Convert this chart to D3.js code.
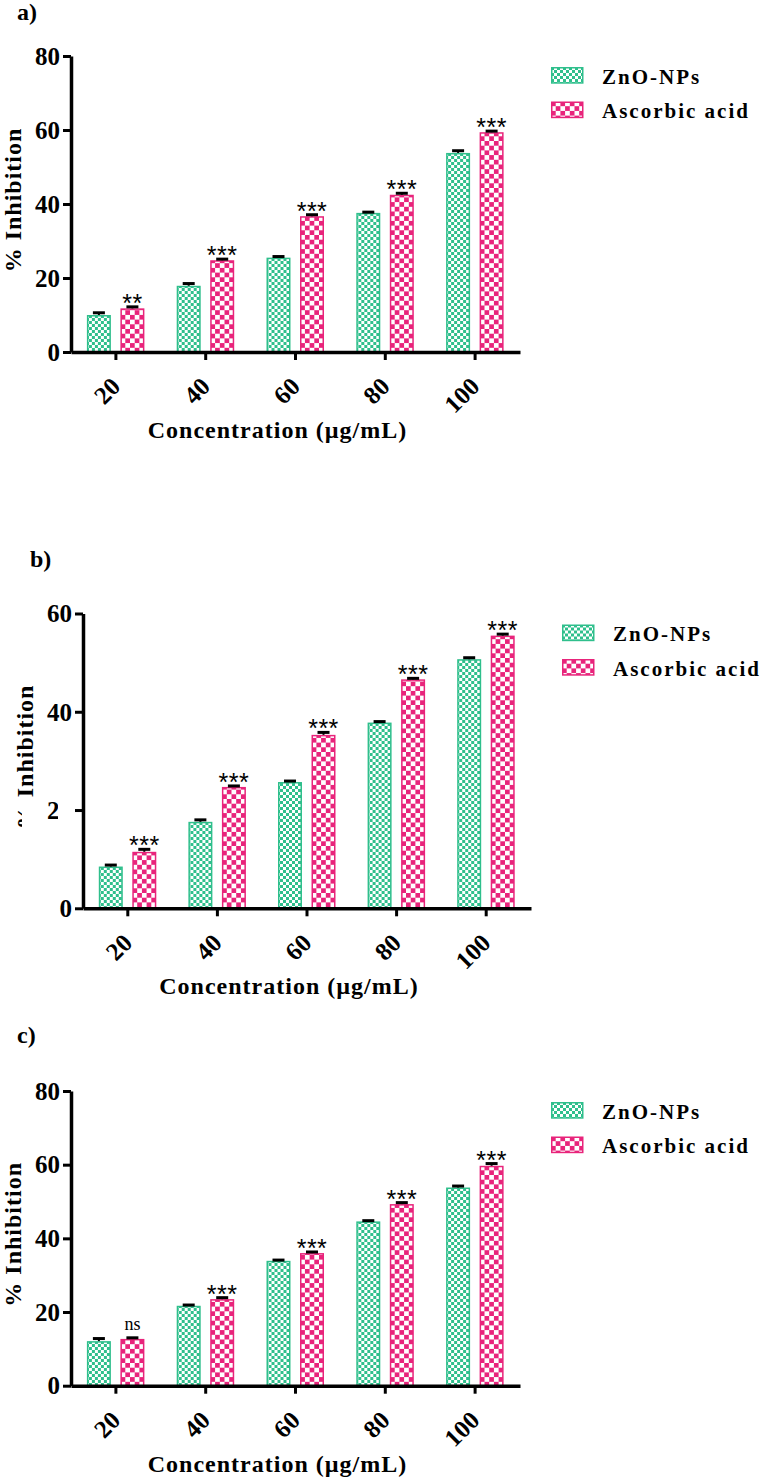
<!DOCTYPE html>
<html>
<head>
<meta charset="utf-8">
<script src="https://cdn.jsdelivr.net/npm/d3@7"></script>
<style>
  html, body { margin: 0; padding: 0; background: #fff; }
  svg { display: block; }
</style>
</head>
<body>
<script>
// ---------------- DATA ----------------
const concentrations = ["20", "40", "60", "80", "100"];
const seriesNames = ["ZnO-NPs", "Ascorbic acid"];

// Panel a
const aZno    = [10.0, 17.9, 25.5, 37.6, 53.8];
const aZnoErr = [0.6, 0.6, 0.3, 0.2, 0.6];
const aAsc    = [11.8, 24.8, 36.7, 42.5, 59.4];
const aAscErr = [0.4, 0.3, 0.4, 0.4, 0.3];
const aSig    = ["**", "***", "***", "***", "***"];
const aTicks  = [0, 20, 40, 60, 80];

// Panel b
const bZno    = [8.5, 17.6, 25.7, 37.8, 50.7];
const bZnoErr = [0.3, 0.4, 0.2, 0.2, 0.3];
const bAsc    = [11.5, 24.7, 35.3, 46.6, 55.5];
const bAscErr = [0.5, 0.2, 0.5, 0.2, 0.3];
const bSig    = ["***", "***", "***", "***", "***"];
const bTicks  = [0, 20, 40, 60];

// Panel c
const cZno    = [12.1, 21.7, 33.9, 44.6, 53.8];
const cZnoErr = [0.7, 0.2, 0.2, 0.2, 0.4];
const cAsc    = [12.7, 23.5, 36.0, 49.3, 59.7];
const cAscErr = [0.3, 0.4, 0.3, 0.4, 0.6];
const cSig    = ["ns", "***", "***", "***", "***"];
const cTicks  = [0, 20, 40, 60, 80];

const xTitle = "Concentration (\u00b5g/mL)";
const yTitle = "% Inhibition";

// ---------------- LAYOUT ----------------
const W = 765, H = 1479;
const GREEN = "#2fbf8c", PINK = "#e8247b";
const SERIF = "'Liberation Serif', 'Times New Roman', serif";
const SANS = "'Liberation Sans', Arial, sans-serif";

const panels = [
  { tag: "a)", tagX: 17, tagY: 20, zno: aZno, znoErr: aZnoErr, asc: aAsc, ascErr: aAscErr, sig: aSig,
    ticks: aTicks, axisX: 71, axisEnd: 520, yTop: 56, yBottom: 352 },
  { tag: "b)", tagX: 30, tagY: 567, zno: bZno, znoErr: bZnoErr, asc: bAsc, ascErr: bAscErr, sig: bSig,
    ticks: bTicks, axisX: 83, axisEnd: 531, yTop: 613.5, yBottom: 908.3, glitch: true },
  { tag: "c)", tagX: 17, tagY: 1043, zno: cZno, znoErr: cZnoErr, asc: cAsc, ascErr: cAscErr, sig: cSig,
    ticks: cTicks, axisX: 71, axisEnd: 520, yTop: 1091, yBottom: 1385.7 }
];

const svg = d3.select("body").append("svg")
  .attr("width", W).attr("height", H)
  .attr("viewBox", `0 0 ${W} ${H}`);

// patterns
const defs = svg.append("defs");
const pg = defs.append("pattern").attr("id", "pGreen")
  .attr("patternUnits", "userSpaceOnUse").attr("width", 6).attr("height", 6);
pg.append("rect").attr("width", 6).attr("height", 6).attr("fill", "#fff");
pg.append("rect").attr("x", 0).attr("y", 0).attr("width", 3).attr("height", 3).attr("fill", GREEN);
pg.append("rect").attr("x", 3).attr("y", 3).attr("width", 3).attr("height", 3).attr("fill", GREEN);

const pp = defs.append("pattern").attr("id", "pPink")
  .attr("patternUnits", "userSpaceOnUse").attr("width", 9.4).attr("height", 9.4);
pp.append("rect").attr("width", 9.4).attr("height", 9.4).attr("fill", "#fff");
pp.append("rect").attr("x", 0).attr("y", 0).attr("width", 4.7).attr("height", 4.7).attr("fill", PINK);
pp.append("rect").attr("x", 4.7).attr("y", 4.7).attr("width", 4.7).attr("height", 4.7).attr("fill", PINK);

const fills = ["url(#pGreen)", "url(#pPink)"];
const strokes = [GREEN, PINK];

panels.forEach(p => {
  const g = svg.append("g");
  const yMax = p.ticks[p.ticks.length - 1];
  const y = d3.scaleLinear().domain([0, yMax]).range([p.yBottom, p.yTop]);
  const x = d3.scaleBand().domain(concentrations).range([p.axisX, p.axisEnd]).paddingInner(0).paddingOuter(0);
  const inner = d3.scaleBand().domain(seriesNames).range([-29, 28.5]).paddingInner(0.284);

  const rows = concentrations.map((c, i) => ({
    c,
    vals: [
      { s: seriesNames[0], v: p.zno[i], e: p.znoErr[i], k: 0 },
      { s: seriesNames[1], v: p.asc[i], e: p.ascErr[i], k: 1, sig: p.sig[i] }
    ]
  }));

  // bars
  const groups = g.selectAll("g.grp").data(rows).enter().append("g")
    .attr("transform", d => `translate(${x(d.c) + x.bandwidth() / 2},0)`);

  groups.selectAll("rect.bar").data(d => d.vals).enter().append("rect")
    .attr("x", d => inner(d.s) + 0.75)
    .attr("width", inner.bandwidth() - 1.5)
    .attr("y", d => y(d.v) + 0.75)
    .attr("height", d => y(0) - y(d.v) - 0.75)
    .attr("fill", d => fills[d.k])
    .attr("stroke", d => strokes[d.k])
    .attr("stroke-width", 1.5);

  // error bars (upper half visible)
  groups.selectAll("line.err").data(d => d.vals).enter().append("line")
    .attr("x1", d => inner(d.s) + inner.bandwidth() / 2)
    .attr("x2", d => inner(d.s) + inner.bandwidth() / 2)
    .attr("y1", d => y(d.v))
    .attr("y2", d => y(d.v + d.e))
    .attr("stroke", "#000").attr("stroke-width", 2);
  groups.selectAll("line.cap").data(d => d.vals).enter().append("line")
    .attr("x1", d => inner(d.s) + inner.bandwidth() / 2 - 6)
    .attr("x2", d => inner(d.s) + inner.bandwidth() / 2 + 6)
    .attr("y1", d => y(d.v + d.e))
    .attr("y2", d => y(d.v + d.e))
    .attr("stroke", "#000").attr("stroke-width", 3);

  // significance labels
  groups.selectAll("text.sig").data(d => d.vals.filter(v => v.sig)).enter().append("text")
    .attr("x", d => inner(d.s) + inner.bandwidth() / 2)
    .attr("y", d => d.sig === "ns" ? y(d.v + d.e) - 8 : y(d.v + d.e) + 5)
    .attr("text-anchor", "middle")
    .style("font-family", d => d.sig === "ns" ? SERIF : SANS)
    .style("font-size", d => d.sig === "ns" ? "18px" : "25px")
    .style("letter-spacing", d => d.sig === "ns" ? "0px" : "0.5px")
    .attr("fill", "#000")
    .text(d => d.sig);

  // y axis
  const yAxis = g.append("g").attr("transform", `translate(${p.axisX},0)`)
    .call(d3.axisLeft(y).tickValues(p.ticks).tickSize(8).tickSizeOuter(0).tickPadding(3));
  yAxis.select(".domain").attr("stroke", "#000").attr("stroke-width", 3.5);
  yAxis.selectAll(".tick line").attr("stroke", "#000").attr("stroke-width", 3);
  yAxis.selectAll(".tick text")
    .style("font-family", SERIF).style("font-weight", "bold").style("font-size", "25px")
    .attr("fill", "#000").attr("dy", "0.33em");

  // x axis
  const xAxis = g.append("g").attr("transform", `translate(0,${p.yBottom})`)
    .call(d3.axisBottom(x).tickSize(8).tickSizeOuter(0));
  xAxis.select(".domain").attr("stroke", "#000").attr("stroke-width", 3.5);
  xAxis.selectAll(".tick line").attr("stroke", "#000").attr("stroke-width", 3);
  xAxis.selectAll(".tick text")
    .style("font-family", SERIF).style("font-weight", "bold").style("font-size", "25px")
    .attr("fill", "#000")
    .attr("text-anchor", "end")
    .attr("x", 0).attr("y", 0).attr("dy", 0)
    .attr("transform", "translate(6,36) rotate(-45)");

  // axis titles
  g.append("text")
    .attr("x", (p.axisX + p.axisEnd) / 2 - 18)
    .attr("y", p.yBottom + 86)
    .attr("text-anchor", "middle")
    .style("font-family", SERIF).style("font-weight", "bold").style("font-size", "24px")
    .style("letter-spacing", "1px")
    .attr("fill", "#000")
    .text(xTitle);

  const yc = (p.yTop + p.yBottom) / 2 - 4;
  const ytx = p.axisX - 50;
  g.append("text")
    .attr("transform", `translate(${ytx},${yc}) rotate(-90)`)
    .attr("text-anchor", "middle")
    .style("font-family", SERIF).style("font-weight", "bold").style("font-size", "24px")
    .style("letter-spacing", "1px")
    .attr("fill", "#000")
    .text(yTitle);

  if (p.glitch) {
    // imitate the partly masked label region of the original panel b
    g.append("rect").attr("x", 58).attr("y", y(20) - 14).attr("width", 16).attr("height", 28).attr("fill", "#fff");
    g.append("rect").attr("x", ytx - 11).attr("y", yc + 46).attr("width", 16).attr("height", 30).attr("fill", "#fff");
  }

  // panel tag
  g.append("text")
    .attr("x", p.tagX).attr("y", p.tagY)
    .style("font-family", SERIF).style("font-weight", "bold").style("font-size", "24px")
    .attr("fill", "#000")
    .text(p.tag);

  // legend
  const lg = g.append("g").attr("transform", `translate(${p.axisEnd + 31},${p.yTop + 11})`);
  const li = lg.selectAll("g").data(seriesNames).enter().append("g")
    .attr("transform", (d, i) => `translate(0,${i * 34.5})`);
  li.append("rect")
    .attr("x", 0.75).attr("y", 0.75).attr("width", 31).attr("height", 15.2)
    .attr("fill", (d, i) => fills[i]).attr("stroke", (d, i) => strokes[i]).attr("stroke-width", 1.5);
  li.append("text")
    .attr("x", 51).attr("y", 16.5)
    .style("font-family", SERIF).style("font-weight", "bold").style("font-size", "21px")
    .style("letter-spacing", "2px")
    .attr("fill", "#000")
    .text(d => d);
});
</script>
</body>
</html>
